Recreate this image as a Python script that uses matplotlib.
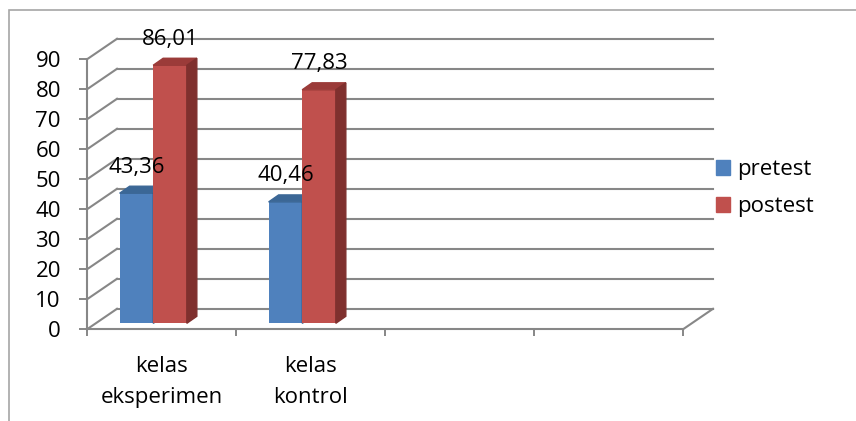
import matplotlib.pyplot as plt
from matplotlib.patches import Polygon, Patch, Rectangle

plt.rcParams["font.family"] = ["Open Sans", "DejaVu Sans"]

categories = ["kelas\neksperimen", "kelas\nkontrol", "", ""]
pretest = [43.36, 40.46]
postest = [86.01, 77.83]
labels_pre = ["43,36", "40,46"]
labels_post = ["86,01", "77,83"]
yticks = list(range(0, 91, 10))

blue, blue_top = "#4F81BD", "#3B6796"
red, red_top, red_side = "#C0504D", "#9B3B39", "#7F302E"
grid_c = "#878787"
fs = 16

fig = plt.figure(figsize=(8.56, 4.21), dpi=100)
ax = fig.add_axes([87 / 856, (421 - 329.3) / 421, 596 / 856, 270 / 421])
ax.set_xlim(0, 4)
ax.set_ylim(0, 90)

# depth of the back wall and of the bars (data units)
wdx, wdy = 30 / 149, 20.5 / 3
bdx, bdy = 10 / 149, 7 / 3
base = 2.0
bw = 0.226

# walls
for v in yticks:
    ax.plot([wdx, 4 + wdx], [v + wdy, v + wdy], color=grid_c, lw=1.5, clip_on=False, zorder=1)
    ax.plot([0, wdx], [v, v + wdy], color=grid_c, lw=1.5, clip_on=False, zorder=1)
ax.plot([4, 4 + wdx], [0, wdy], color=grid_c, lw=1.5, clip_on=False, zorder=1)


def bar3d(xc, val, face, top, side, lab):
    ax.bar(xc, val, bw, bottom=base, color=face, zorder=3, clip_on=False)
    x0, x1, y1 = xc - bw / 2, xc + bw / 2, base + val
    ax.add_patch(Polygon([(x0, y1), (x1, y1), (x1 + bdx, y1 + bdy), (x0 + bdx, y1 + bdy)],
                         closed=True, color=top, zorder=3, clip_on=False))
    ax.add_patch(Polygon([(x1, base), (x1, y1), (x1 + bdx, y1 + bdy), (x1 + bdx, base + bdy)],
                         closed=True, color=side, zorder=3, clip_on=False))
    ax.annotate(lab, (xc, y1), xytext=(0, 26), textcoords="offset pixels",
                ha="center", va="center", fontsize=fs, zorder=5, annotation_clip=False)


for i in range(len(pretest)):
    bar3d(i + 0.332, pretest[i], blue, blue_top, "#2F5480", labels_pre[i])
    bar3d(i + 0.557, postest[i], red, red_top, red_side, labels_post[i])

for s in ["top", "right"]:
    ax.spines[s].set_visible(False)
for s in ["left", "bottom"]:
    ax.spines[s].set_color(grid_c)
    ax.spines[s].set_linewidth(1.5)
ax.set_facecolor("none")

ax.set_yticks(yticks)
ax.tick_params(axis="y", length=5.8, width=1.4, color=grid_c, pad=13, labelsize=fs)
ax.set_xticks(range(5))
ax.set_xticklabels([])
ax.tick_params(axis="x", which="major", length=5, width=1.4, color=grid_c)
ax.set_xticks([0.5, 1.5, 2.5, 3.5], minor=True)
ax.set_xticklabels(categories, minor=True, fontsize=fs, linespacing=1.65)
ax.tick_params(axis="x", which="minor", length=0, pad=19)

handles = [Patch(color=blue), Patch(color=red)]
fig.legend(handles, ["pretest", "postest"], loc="center left",
           bbox_to_anchor=(716 / 856, (421 - 188) / 421), frameon=False,
           fontsize=fs, handlelength=0.65, handleheight=0.65, handletextpad=0.32,
           labelspacing=0.72, borderpad=0, borderaxespad=0)

fig.patches.append(Rectangle((9 / 856, -0.1), 1.0, (421 - 10) / 421 + 0.1,
                             transform=fig.transFigure, fill=False, ec="#A6A6A6", lw=1.2))

fig.savefig("out.png", dpi=100)
